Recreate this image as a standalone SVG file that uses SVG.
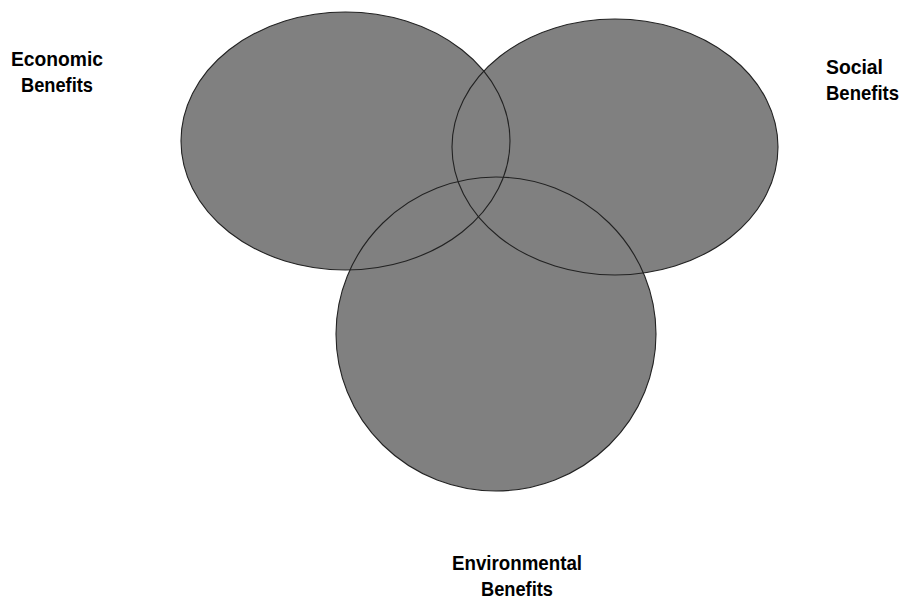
<svg xmlns="http://www.w3.org/2000/svg" width="907" height="602" viewBox="0 0 907 602">
<style>
.fill{fill:#808080;stroke:none}
.outline{fill:none;stroke:#222;stroke-width:1.1}
.lbl{font-family:"Liberation Sans",Arial,sans-serif;font-weight:bold;font-size:20.5px;fill:#000}
</style>
<rect width="907" height="602" fill="#fff"/>
<g id="economic">
<ellipse class="fill" cx="345.5" cy="141" rx="164.5" ry="129"/>
<text class="lbl" x="57" y="66" text-anchor="middle" textLength="92" lengthAdjust="spacingAndGlyphs">Economic</text>
<text class="lbl" x="57" y="92" text-anchor="middle" textLength="72" lengthAdjust="spacingAndGlyphs">Benefits</text>
</g>
<g id="social">
<ellipse class="fill" cx="615" cy="147" rx="163" ry="128"/>
<text class="lbl" x="826" y="74" textLength="57" lengthAdjust="spacingAndGlyphs">Social</text>
<text class="lbl" x="826" y="100" textLength="73" lengthAdjust="spacingAndGlyphs">Benefits</text>
</g>
<g id="environmental">
<ellipse class="fill" cx="496" cy="334" rx="160" ry="157"/>
<text class="lbl" x="517" y="570" text-anchor="middle" textLength="130" lengthAdjust="spacingAndGlyphs">Environmental</text>
<text class="lbl" x="517" y="596" text-anchor="middle" textLength="72" lengthAdjust="spacingAndGlyphs">Benefits</text>
</g>
<g id="outlines">
<ellipse class="outline" cx="345.5" cy="141" rx="164.5" ry="129"/>
<ellipse class="outline" cx="615" cy="147" rx="163" ry="128"/>
<ellipse class="outline" cx="496" cy="334" rx="160" ry="157"/>
</g>
</svg>
